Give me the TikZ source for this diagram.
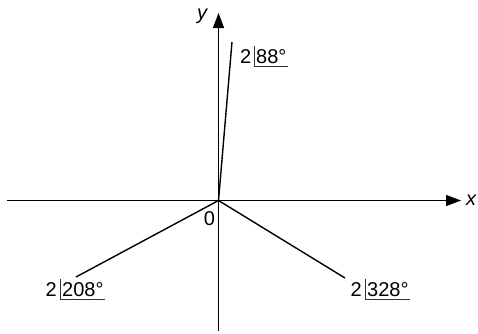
\documentclass[tikz,border=0pt]{standalone}
\usepackage{fontspec}
\setmainfont{Liberation Sans}
\usetikzlibrary{arrows.meta}
\begin{document}
\begin{tikzpicture}[x=1pt,y=-1pt,
  axis/.style={line width=1.2pt,-{Triangle[length=15pt,width=11pt]}},
  ray/.style={line width=1.4pt},
  lab/.style={font=\fontsize{20}{22}\selectfont,inner sep=0pt,anchor=base west},
  angbox/.style={font=\fontsize{20}{22}\selectfont,inner xsep=1.5pt,inner ysep=3pt,anchor=base west},
  frame/.style={line width=0.8pt,draw=black!80}]
\useasboundingbox (0,0) rectangle (478,333);
\coordinate (O) at (218.5,200.5);
\coordinate (xl) at (7,200.5);
\coordinate (xr) at (461,200.5);
\coordinate (yb) at (218.5,331);
\coordinate (yt) at (218.5,13);
\coordinate (p88) at (232,42);
\coordinate (p208) at (76,277);
\coordinate (p328) at (345,278);
\draw[axis] (xl) -- (xr);
\draw[axis] (yb) -- (yt);
\draw[ray] (O) -- (p88);
\draw[ray] (O) -- (p208);
\draw[ray] (O) -- (p328);
\node[font=\fontsize{20}{22}\selectfont\itshape] (xlab) at (471,200.5) {x};
\node[font=\fontsize{20}{22}\selectfont\itshape] (ylab) at (202,16) {y};
\node[font=\fontsize{20}{22}\selectfont] (zero) at (209.5,218.5) {0};
% 88
\node[lab] (m88) at (240,63) {2};
\node[angbox] (a88) at (254.5,63) {88°};
\draw[frame] (a88.north west) -- (a88.south west) -- (a88.south east);
% 208
\node[lab] (m208) at (45.5,296) {2};
\node[angbox] (a208) at (60.5,296) {208°};
\draw[frame] (a208.north west) -- (a208.south west) -- (a208.south east);
% 328
\node[lab] (m328) at (350.5,296) {2};
\node[angbox] (a328) at (365.5,296) {328°};
\draw[frame] (a328.north west) -- (a328.south west) -- (a328.south east);
\end{tikzpicture}
\end{document}
